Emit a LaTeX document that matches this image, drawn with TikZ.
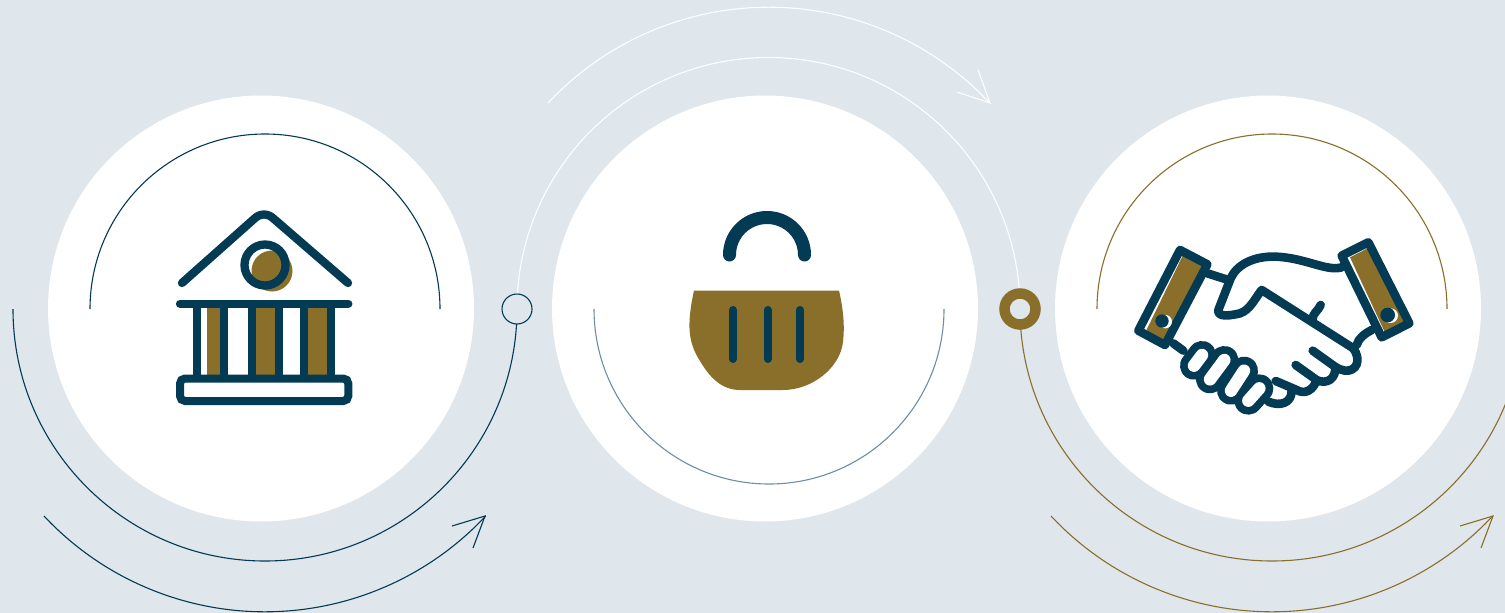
\documentclass[tikz,border=0pt]{standalone}
\definecolor{bgc}{HTML}{DFE6EC}
\definecolor{navy}{HTML}{033A54}
\definecolor{gold}{HTML}{8A6F2B}
\definecolor{steel}{HTML}{6F8EA3}
\tikzset{
 disc/.style={circle,fill=white,minimum size=426pt,inner sep=0pt},
 thin arc/.style={line width=1.1pt},
 icon/.style={draw=navy,line width=8.3pt,line cap=round,line join=round},
 hand/.style={draw=navy,line width=8.6pt,line cap=round,line join=round},
}
\begin{document}
\begin{tikzpicture}[x=1pt,y=-1pt]
\useasboundingbox (0,0) rectangle (1505,613);
\clip (0,0) rectangle (1505,613);
\fill[bgc] (0,0) rectangle (1505,613);
\node[disc] (c1) at (261,308.5) {};
\node[disc] (c2) at (765,308.5) {};
\node[disc] (c3) at (1268,308.5) {};
% inner arcs
\coordinate (ia1) at (90,309);
\coordinate (ia2) at (594,309);
\coordinate (ia3) at (1097,309);
\draw[navy,thin arc] (ia1) arc[start angle=180,end angle=360,radius=175];
\draw[steel,thin arc] (ia2) arc[start angle=180,end angle=0,radius=175];
\draw[gold,thin arc] (ia3) arc[start angle=180,end angle=360,radius=175];
% big arcs
\coordinate (b0) at (13,309);
\coordinate (b1) at (517,309);
\coordinate (b2) at (1020,309);
\draw[navy,thin arc] (b0) arc[start angle=180,end angle=0,radius=252];
\draw[white,thin arc] (b1) arc[start angle=180,end angle=360,radius=251.5];
\draw[gold,thin arc] (b2) arc[start angle=180,end angle=0,radius=252];
% outer arrows
\coordinate (o1) at (44,516);
\coordinate (t1) at (485,516);
\coordinate (t1a) at (452,526);
\coordinate (t1b) at (473,548);
\draw[navy,thin arc] (o1) arc[start angle=136.9,end angle=43.1,radius=302.5];
\draw[navy,thin arc] (t1a) -- (t1) -- (t1b);
\coordinate (o2) at (548,103);
\coordinate (t2) at (990,103);
\coordinate (t2a) at (957,92);
\coordinate (t2b) at (978,70);
\draw[white,thin arc] (o2) arc[start angle=223.1,end angle=316.9,radius=302.5];
\draw[white,thin arc] (t2a) -- (t2) -- (t2b);
\coordinate (o3) at (1051,516);
\coordinate (t3) at (1493,516);
\coordinate (t3a) at (1460,526);
\coordinate (t3b) at (1481,548);
\draw[gold,thin arc] (o3) arc[start angle=136.9,end angle=43.1,radius=302.5];
\draw[gold,thin arc] (t3a) -- (t3) -- (t3b);
% junctions
\node[circle,draw=navy,line width=1.1pt,fill=bgc,minimum size=30pt,inner sep=0pt] (j1) at (517,309) {};
\node[circle,draw=gold,line width=10.5pt,fill=bgc,minimum size=31pt,inner sep=0pt] (j2) at (1020,309) {};
% bank
\fill[gold] (272,271) circle (20.5);
\draw[icon,fill=none] (265,265) circle (20.5);
\path[icon] (182,283) -- (254,219) .. controls (260,213) and (268,213) .. (274,219) -- (348,283);
\fill[gold] (206.7,306) rectangle (220,380);
\fill[gold] (255.7,306) rectangle (274.7,380);
\fill[gold] (308.3,306) rectangle (327.3,380);
\foreach \cx in {197.3,224,251.7,279,304.3,331.3}{\draw[navy,line width=8pt] (\cx,304) -- (\cx,380);}
\path[icon] (180,303.7) -- (348.3,303.7);
\draw[navy,line width=8pt,fill=white,rounded corners=5pt] (180,378.5) rectangle (348.3,401);
% basket
\fill[gold] (694,290.5) -- (839,290.5) .. controls (843,308) and (845,325) .. (843,342)
  .. controls (840,368) and (812,390) .. (783,390) -- (740,390)
  .. controls (722,390) and (710,378) .. (700,361)
  .. controls (691,347) and (689,335) .. (689.5,322)
  .. controls (690,310) and (692,300) .. (694,290.5) -- cycle;
\draw[navy,line width=13pt,line cap=round] (729.5,255) arc[start angle=180,end angle=360,radius=37.5];
\foreach \bx in {733,767.7,800}{\draw[navy,line width=8pt,line cap=round] (\bx,310) -- (\bx,359);}
% handshake in 3x zoom coordinates
\begin{scope}[shift={(1120,220)},x=0.33333pt,y=-0.33333pt]
 % fingers
 \foreach \a/\b in {{(222,437)}/{(246,405)},{(270,478)}/{(313,420)},{(333,512)}/{(372,452)},{(385,542)}/{(418,505)}}{
   \draw[navy,line width=28pt,line cap=round] \a -- \b;}
 \foreach \a/\b in {{(222,437)}/{(246,405)},{(270,478)}/{(313,420)},{(333,512)}/{(372,452)},{(385,542)}/{(418,505)}}{
   \draw[white,line width=12.5pt,line cap=round] \a -- \b;}
 % wrists
 \path[hand] (262,160) -- (325,180);
 \path[hand] (160,370) -- (190,392);
 % cuffs
 \fill[gold] (190,103) -- (250,135) -- (135,362) -- (78,333) -- cycle;
 \fill[gold] (690,112) -- (748,82) -- (858,310) -- (795,338) -- cycle;
 \path[hand] (180,90) -- (262,133) -- (135,375) -- (55,332) -- cycle;
 \path[hand] (745,67) -- (868,310) -- (785,352) -- (665,107) -- cycle;
 \fill[white] (136,305) circle (20);
 \fill[navy] (126,303) circle (20);
 \fill[white] (812,287) circle (22);
 \fill[navy] (803,285) circle (22);
 % upper hand
 \path[hand] (665,142) .. controls (620,155) and (560,115) .. (470,110)
   .. controls (400,107) and (350,135) .. (332,175) -- (295,270)
   .. controls (290,295) and (340,285) .. (360,280)
   .. controls (390,270) and (405,235) .. (425,210) -- (700,385);
 \path[hand] (578,296) .. controls (578,280) and (595,272) .. (602,255);
 \path[hand] (710,375) .. controls (715,355) and (735,340) .. (755,330);
 % lower hand
 \path[hand] (700,385) .. controls (725,420) and (710,455) .. (675,452) .. controls (665,450) and (655,447) .. (645,440) -- (578,392);
 \path[hand] (645,440) .. controls (650,475) and (620,495) .. (590,480) -- (527,435);
 \path[hand] (590,480) .. controls (580,510) and (555,525) .. (530,510) -- (467,483);
 \path[hand] (515,512) .. controls (515,550) and (480,560) .. (445,545);
\end{scope}
\end{tikzpicture}
\end{document}
